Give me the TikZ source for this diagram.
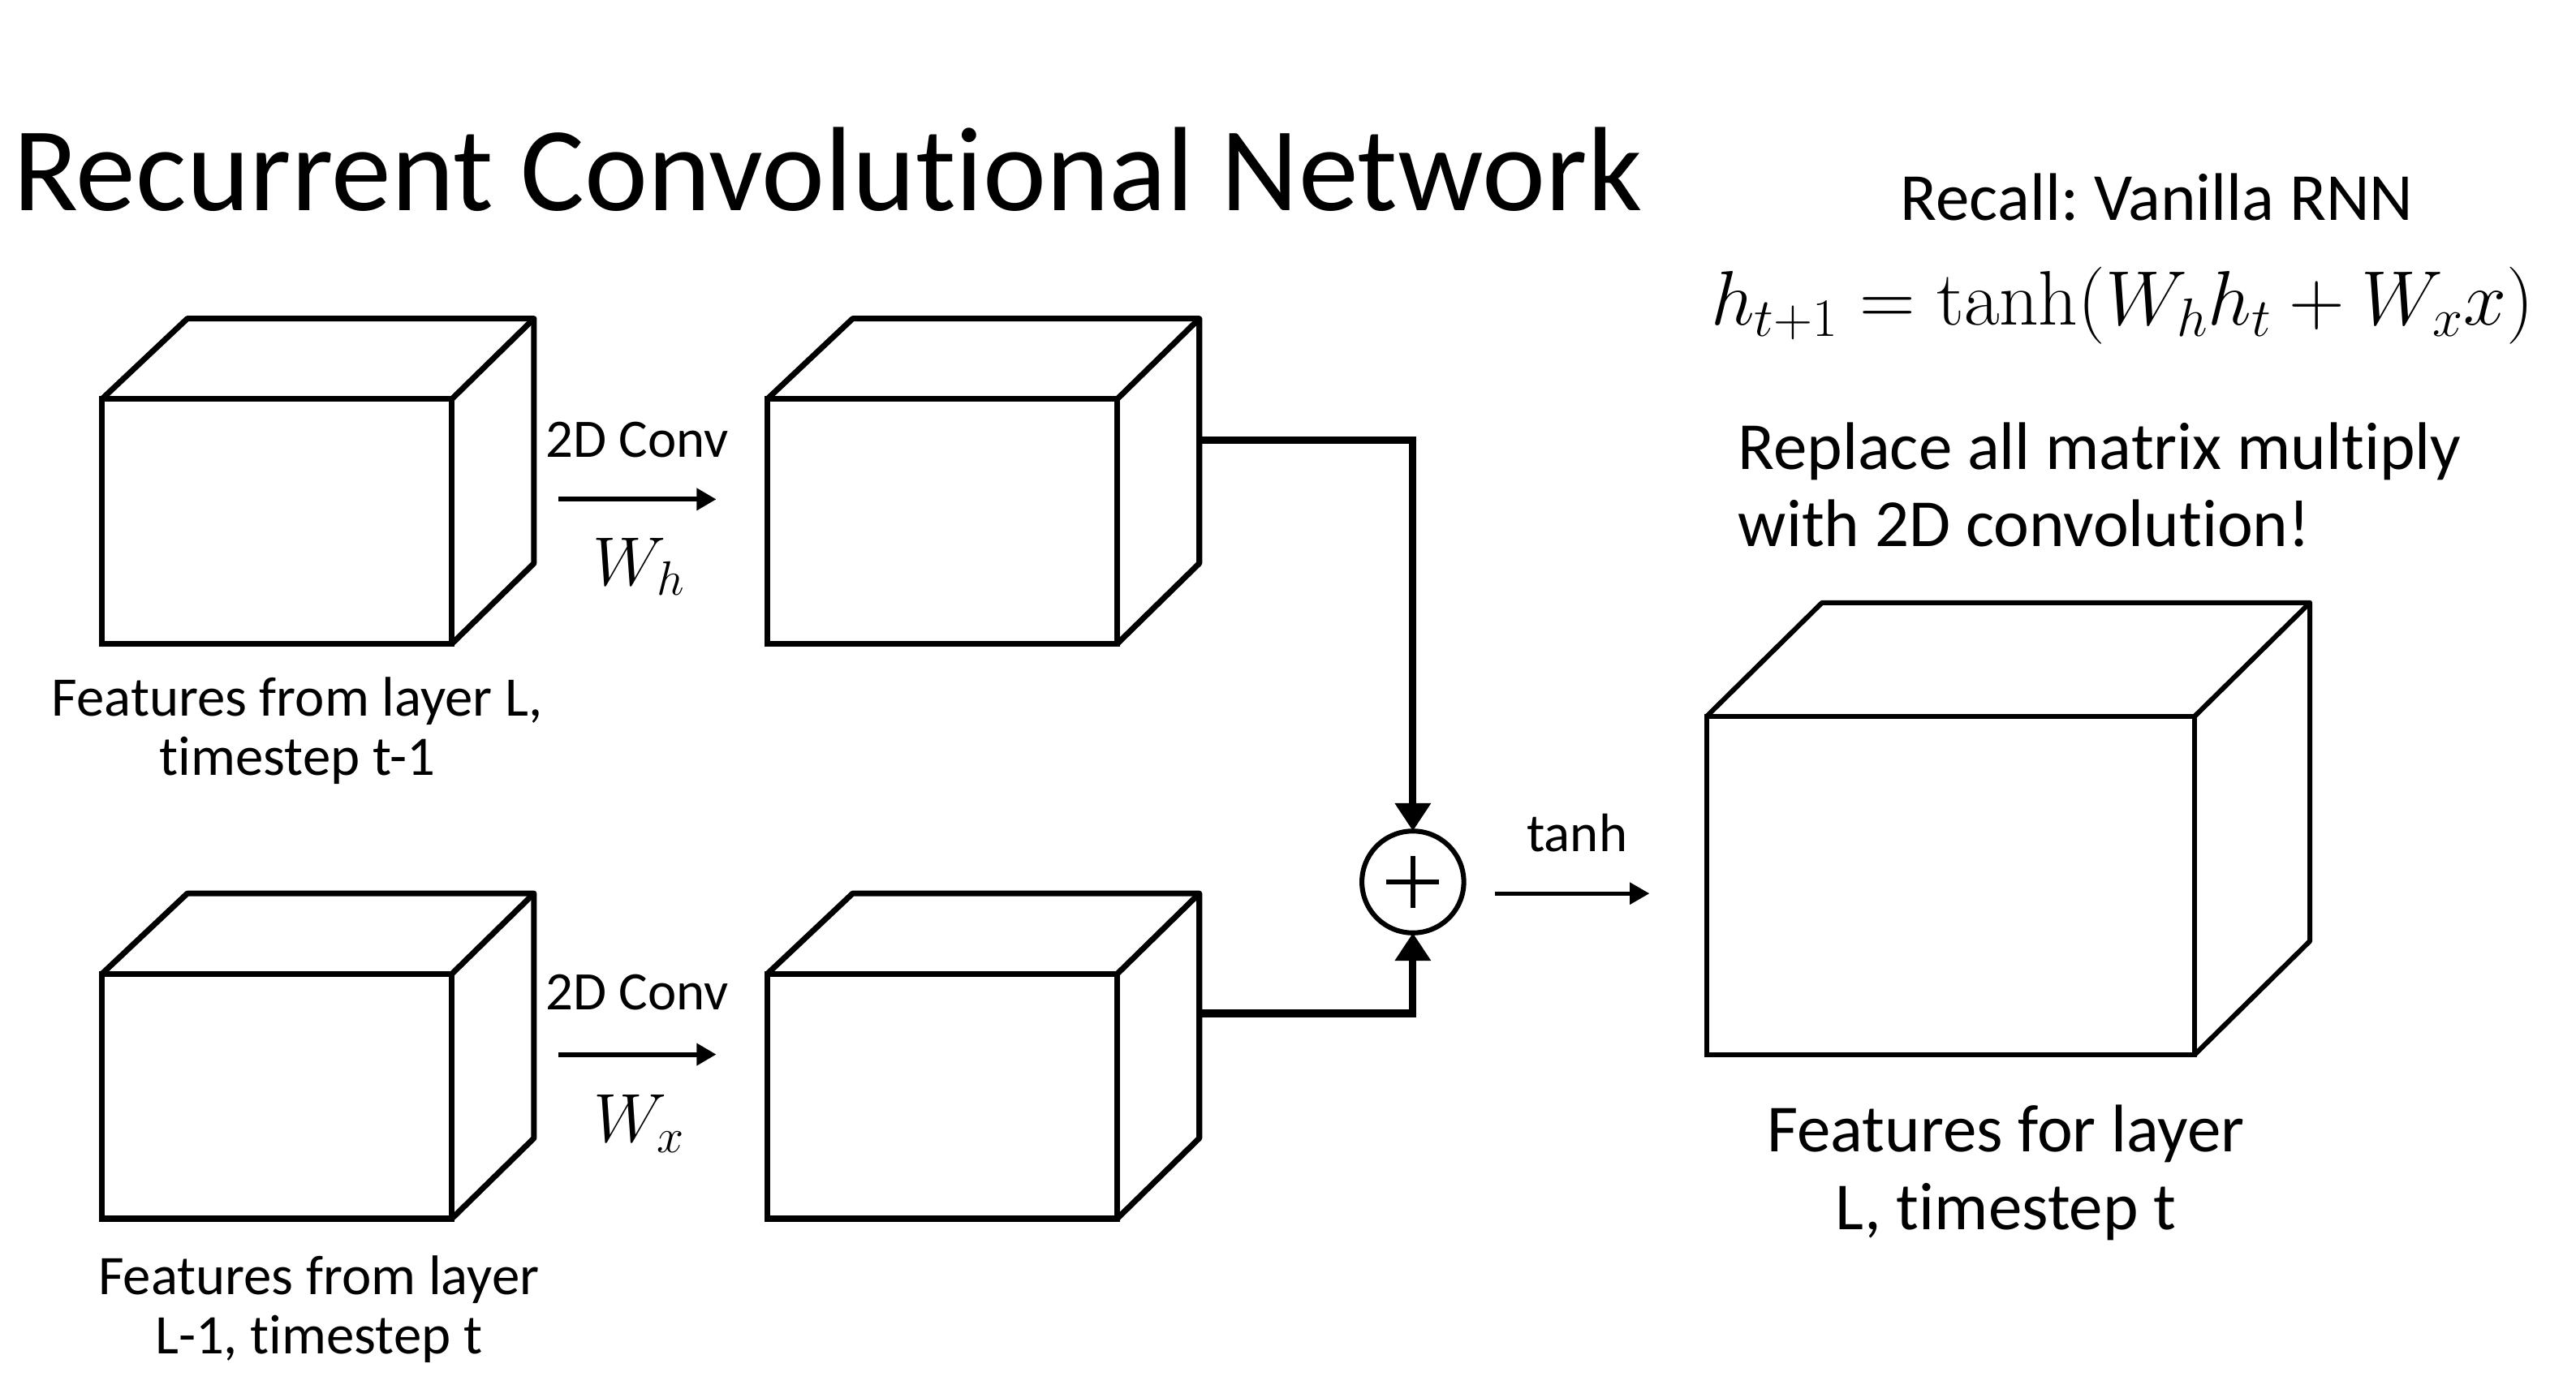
\RequirePackage{fix-cm}
\documentclass[tikz,border=0pt]{standalone}
\usepackage[no-math]{fontspec}
\setmainfont{Carlito}[Ligatures=NoCommon]
\usetikzlibrary{arrows.meta}
\frenchspacing

\begin{document}
\begin{tikzpicture}[
            x = 1pt, y = -1pt,
            every node/.style={inner sep=0pt, outer sep=0pt},
            face/.style={draw, rectangle, line width=3.5pt},
            line/.style={line width=3.5pt, line join=round},
            link/.style={line width=4.5pt, -{Triangle[length=17pt, width=21pt]}},
            conv/.style={line width=3pt, -{Triangle[length=12pt, width=13pt]}},
            label/.style={align=center, font=\fontsize{34}{36}\selectfont},
            note/.style={align=center, font=\fontsize{41}{47}\selectfont},
            ]
        \useasboundingbox (0,0) rectangle (1568,843);
        % title
        \node[anchor=base west, font=\fontsize{73}{90}\selectfont] (title) at (8,128) {Recurrent Convolutional Network};
        % the four small feature cubes (front faces)
        \node[face, minimum width=213pt, minimum height=149pt] (hprev) at (168.5,317.5) {};
        \node[face, minimum width=213pt, minimum height=149pt] (hconv) at (573.5,317.5) {};
        \node[face, minimum width=213pt, minimum height=149pt] (xprev) at (168.5,667.5) {};
        \node[face, minimum width=213pt, minimum height=149pt] (xconv) at (573.5,667.5) {};
        \foreach \c in {hprev, hconv, xprev, xconv} {
            \draw[line] (\c.north west) -- ++(52,-49) -- ++(211,0) -- ++(0,149) -- (\c.south east);
            \draw[line] (\c.north east) -- ++(50,-49);
        }
        % the big output cube
        \node[face, line width=3pt, minimum width=297pt, minimum height=206pt] (hnext) at (1187.5,539) {};
        \draw[line, line width=3pt] (hnext.north west) -- ++(70,-69) -- ++(297,0) -- ++(0,206) -- (hnext.south east);
        \draw[line, line width=3pt] (hnext.north east) -- ++(70,-69);
        % labels under the cubes
        \node[label] (hprevlbl) at (181,445) {Features from layer L,\\timestep t-1};
        \node[label] (xprevlbl) at (194,797) {Features from layer\\L-1, timestep t};
        \node[note] (hnextlbl) at (1221,714) {Features for layer\\L, timestep t};
        % 2D conv arrows
        \coordinate (hs) at (340,304);
        \coordinate (he) at (436,304);
        \coordinate (xs) at (340,642);
        \coordinate (xe) at (436,642);
        \draw[conv] (hs) -- (he);
        \draw[conv] (xs) -- (xe);
        \node[font=\fontsize{33}{34}\selectfont] (hconvtxt) at (388,268) {2D Conv};
        \node[font=\fontsize{33}{34}\selectfont] (xconvtxt) at (388,604) {2D Conv};
        \node[font=\fontsize{42}{48}\selectfont] (wh) at (389,345) {$W_h$};
        \node[font=\fontsize{42}{48}\selectfont] (wx) at (389,684) {$W_x$};
        % sum
        \node[draw, circle, line width=3pt, minimum size=62pt] (sum) at (860,537) {};
        \draw[line width=3pt] ([xshift=-16pt]sum.center) -- ([xshift=16pt]sum.center);
        \draw[line width=3pt] ([yshift=-16pt]sum.center) -- ([yshift=16pt]sum.center);
        \coordinate (hout) at (730,268);
        \coordinate (xout) at (730,617);
        \draw[link] (hout) -| (sum);
        \draw[link] (xout) -| (sum);
        % tanh
        \coordinate (ts) at (910,544);
        \coordinate (te) at (1004,544);
        \draw[conv, line width=2.5pt] (ts) -- (te);
        \node[font=\fontsize{33}{34}\selectfont] (tanhtxt) at (960,507) {tanh};
        % right side notes
        \node[note] (recall) at (1313,120) {Recall: Vanilla RNN};
        \node[font=\fontsize{47}{56}\selectfont] (eq) at (1292,186) {$h_{t+1} = \tanh(W_h h_t + W_x x)$};
        \node[note, align=left, anchor=west] (replace) at (1058,295) {Replace all matrix multiply\\with 2D convolution!};
\end{tikzpicture}
\end{document}
